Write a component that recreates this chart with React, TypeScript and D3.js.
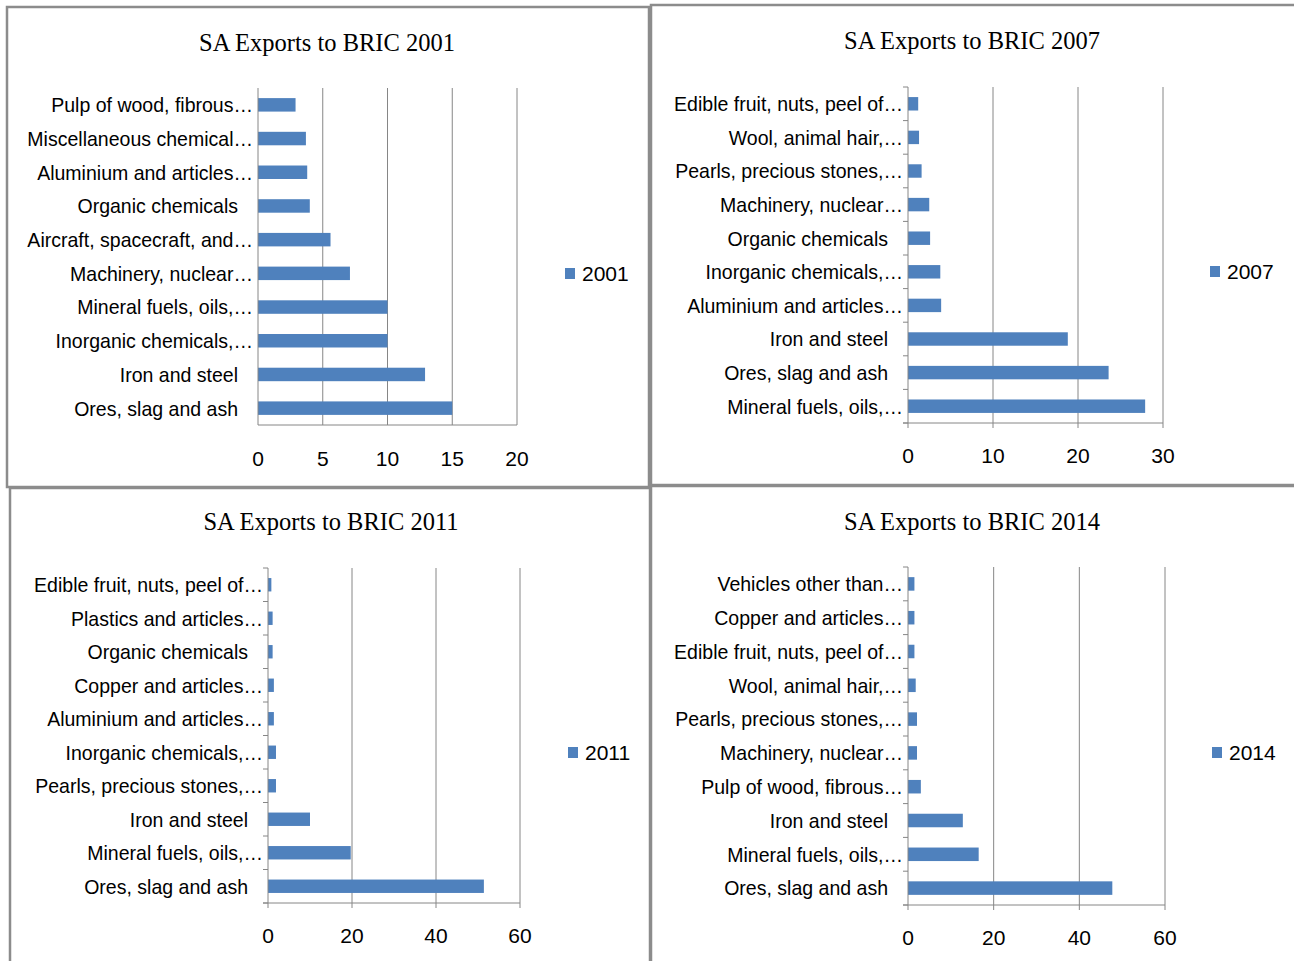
import React from 'react';
import * as d3 from 'd3';

// data, top-to-bottom as shown in each chart
const cats2001 = [
  'Pulp of wood, fibrous…',
  'Miscellaneous chemical…',
  'Aluminium and articles…',
  'Organic chemicals',
  'Aircraft, spacecraft, and…',
  'Machinery, nuclear…',
  'Mineral fuels, oils,…',
  'Inorganic chemicals,…',
  'Iron and steel',
  'Ores, slag and ash',
];
const vals2001 = [2.9, 3.7, 3.8, 4.0, 5.6, 7.1, 10.0, 10.0, 12.9, 15.0];

const cats2007 = [
  'Edible fruit, nuts, peel of…',
  'Wool, animal hair,…',
  'Pearls, precious stones,…',
  'Machinery, nuclear…',
  'Organic chemicals',
  'Inorganic chemicals,…',
  'Aluminium and articles…',
  'Iron and steel',
  'Ores, slag and ash',
  'Mineral fuels, oils,…',
];
const vals2007 = [1.2, 1.3, 1.6, 2.5, 2.6, 3.8, 3.9, 18.8, 23.6, 27.9];

const cats2011 = [
  'Edible fruit, nuts, peel of…',
  'Plastics and articles…',
  'Organic chemicals',
  'Copper and articles…',
  'Aluminium and articles…',
  'Inorganic chemicals,…',
  'Pearls, precious stones,…',
  'Iron and steel',
  'Mineral fuels, oils,…',
  'Ores, slag and ash',
];
const vals2011 = [0.8, 1.1, 1.1, 1.4, 1.4, 1.9, 1.9, 10.0, 19.7, 51.4];

const cats2014 = [
  'Vehicles other than…',
  'Copper and articles…',
  'Edible fruit, nuts, peel of…',
  'Wool, animal hair,…',
  'Pearls, precious stones,…',
  'Machinery, nuclear…',
  'Pulp of wood, fibrous…',
  'Iron and steel',
  'Mineral fuels, oils,…',
  'Ores, slag and ash',
];
const vals2014 = [1.5, 1.5, 1.5, 1.8, 2.1, 2.1, 3.0, 12.8, 16.5, 47.7];

const ticks2001 = [0, 5, 10, 15, 20];
const ticks2007 = [0, 10, 20, 30];
const ticks2011 = [0, 20, 40, 60];
const ticks2014 = [0, 20, 40, 60];

const BAR = '#4f81bd';
const GRID = '#868686';
const BORDER = '#8c8c8c';
const LABEL_FONT = "'Liberation Sans', Arial, sans-serif";
const TITLE_FONT = "'Liberation Serif', 'DejaVu Serif', serif";

interface PanelProps {
  year: string;
  cats: string[];
  vals: number[];
  ticks: number[];
  box: [number, number, number, number];
  x0: number;
  x1: number;
  top: number;
  bottom: number;
  titleX: number;
  titleY: number;
  tickY: number;
  legendX: number;
  legendY: number;
  catTicks: boolean;
}

const Panel: React.FC<PanelProps> = (p) => {
  const max = p.ticks[p.ticks.length - 1];
  const x = d3.scaleLinear().domain([0, max]).range([p.x0, p.x1]);
  const y = d3.scaleBand<string>().domain(p.cats).range([p.top, p.bottom]).paddingInner(0.6).paddingOuter(0.3);
  const step = y.step();
  const edges = d3.range(p.cats.length + 1).map((i) => p.top + i * step);

  return (
    <g>
      <rect x={p.box[0]} y={p.box[1]} width={p.box[2]} height={p.box[3]} fill="#fff" stroke={BORDER} strokeWidth={2.5} />
      <text x={p.titleX} y={p.titleY} textAnchor="middle" fontFamily={TITLE_FONT} fontSize={24.5} fill="#000">
        SA Exports to BRIC {p.year}
      </text>

      {/* vertical gridlines */}
      {p.ticks.slice(1).map((t) => (
        <line key={t} x1={x(t)} x2={x(t)} y1={p.top} y2={p.bottom} stroke={GRID} strokeWidth={1} />
      ))}

      {/* bars */}
      {p.cats.map((c, i) => (
        <rect key={c + i} x={x(0)} y={y(c)!} width={x(p.vals[i]) - x(0)} height={y.bandwidth()} fill={BAR} />
      ))}

      {/* axes */}
      <line x1={p.x0} x2={p.x0} y1={p.top} y2={p.bottom} stroke={GRID} />
      <line x1={p.catTicks ? p.x0 - 5 : p.x0} x2={p.x1} y1={p.bottom} y2={p.bottom} stroke={GRID} />
      {p.catTicks &&
        edges.map((e, i) => <line key={'ct' + i} x1={p.x0 - 5} x2={p.x0} y1={e} y2={e} stroke={GRID} />)}
      {p.catTicks &&
        p.ticks.map((t) => (
          <line key={'vt' + t} x1={x(t)} x2={x(t)} y1={p.bottom} y2={p.bottom + 5} stroke={GRID} />
        ))}

      {/* category labels, squeezed a little to mimic a narrow face */}
      {p.cats.map((c, i) => (
        <text
          key={'l' + c + i}
          transform={`translate(${c.endsWith('…') ? p.x0 - 5 : p.x0 - 20},${y(c)! + y.bandwidth() / 2}) scale(0.93,1)`}
          dy="0.35em"
          textAnchor="end"
          fontFamily={LABEL_FONT}
          fontSize={21}
          fill="#000"
        >
          {c}
        </text>
      ))}

      {/* value labels */}
      {p.ticks.map((t) => (
        <text key={'tl' + t} x={x(t)} y={p.tickY} textAnchor="middle" fontFamily={LABEL_FONT} fontSize={21} fill="#000">
          {t}
        </text>
      ))}

      {/* legend */}
      <rect x={p.legendX} y={p.legendY - 6} width={10} height={11} fill={BAR} />
      <text x={p.legendX + 17} y={p.legendY} dy="0.35em" fontFamily={LABEL_FONT} fontSize={21} fill="#000">
        {p.year}
      </text>
    </g>
  );
};

const App: React.FC = () => {
  return (
    <svg width={1294} height={961} style={{ position: 'absolute', left: 0, top: 0, background: '#fff' }}>
      <rect x={0} y={0} width={1294} height={961} fill="#fff" />
      <Panel
        year="2001" cats={cats2001} vals={vals2001} ticks={ticks2001}
        box={[7, 7, 642, 480]} x0={258} x1={517} top={88} bottom={425}
        titleX={327} titleY={51} tickY={466} legendX={565} legendY={274} catTicks={false}
      />
      <Panel
        year="2007" cats={cats2007} vals={vals2007} ticks={ticks2007}
        box={[651, 5, 650, 480]} x0={908} x1={1163} top={87} bottom={423}
        titleX={972} titleY={49} tickY={463} legendX={1210} legendY={272} catTicks={true}
      />
      <Panel
        year="2011" cats={cats2011} vals={vals2011} ticks={ticks2011}
        box={[10, 488, 640, 480]} x0={268} x1={520} top={568} bottom={903}
        titleX={331} titleY={530} tickY={943} legendX={568} legendY={753} catTicks={true}
      />
      <Panel
        year="2014" cats={cats2014} vals={vals2014} ticks={ticks2014}
        box={[651, 486, 650, 480]} x0={908} x1={1165} top={567} bottom={905}
        titleX={972} titleY={530} tickY={945} legendX={1212} legendY={753} catTicks={true}
      />
    </svg>
  );
};

export default App;
